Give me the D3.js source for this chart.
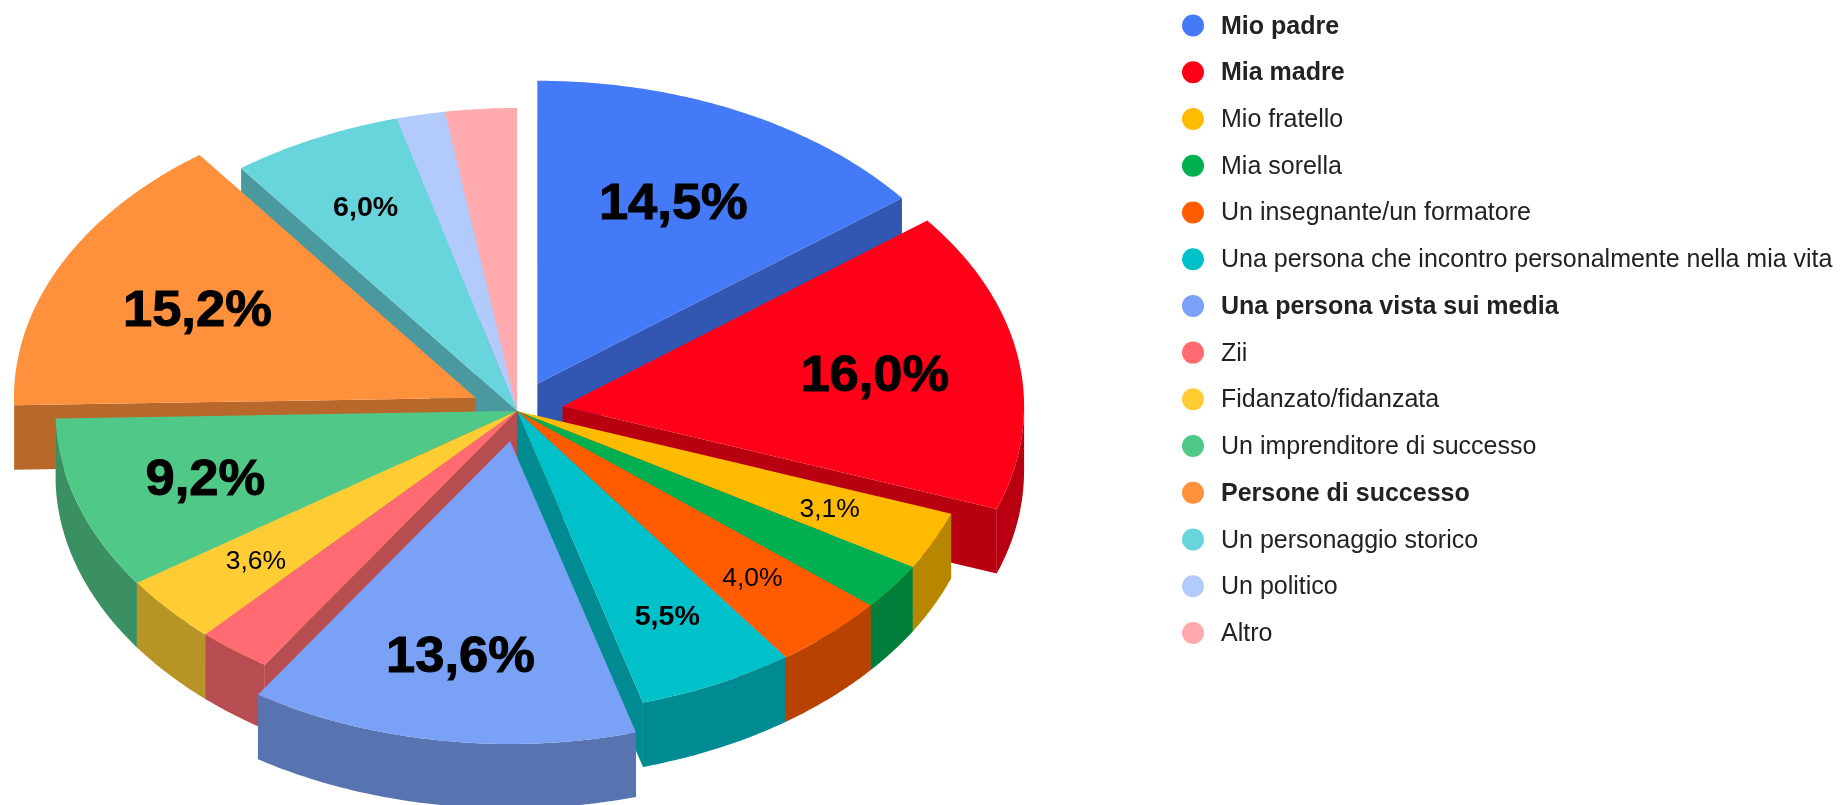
<!DOCTYPE html>
<html><head><meta charset="utf-8">
<script src="https://cdn.jsdelivr.net/npm/d3@7"></script>
<style>html,body{margin:0;padding:0;background:#fff}svg{display:block;filter:blur(0.5px)}text{font-family:"Liberation Sans",Arial,sans-serif}</style>
</head><body><svg id="c" width="1841" height="805"></svg>
<script>
const categories=["Mio padre","Mia madre","Mio fratello","Mia sorella","Un insegnante/un formatore","Una persona che incontro personalmente nella mia vita","Una persona vista sui media","Zii","Fidanzato/fidanzata","Un imprenditore di successo","Persone di successo","Un personaggio storico","Un politico","Altro"];
const values=[14.5,16.0,3.1,2.5,4.0,5.5,13.6,2.6,3.6,9.2,15.2,6.0,1.7,2.5];
const colors=["#4479F8","#FF0018","#FFBB00","#00AF50","#FF5B00","#00C0C9","#79A1F5","#FF6B70","#FFCC33","#50C887","#FF913C","#67D5DB","#B3CAFC","#FFAAAE"];
const highlighted=["Mio padre","Mia madre","Una persona vista sui media","Persone di successo"];
const labelled=["Mio padre","Mia madre","Mio fratello","Un insegnante/un formatore","Una persona che incontro personalmente nella mia vita","Una persona vista sui media","Fidanzato/fidanzata","Un imprenditore di successo","Persone di successo","Un personaggio storico"];
const boldSmall=["Una persona che incontro personalmente nella mia vita","Un personaggio storico"];

const W=1841,H=805,cx=517,cy=411,rx=461.5,ry=303,depth=64.5,explode=0.1;
const svg=d3.select("#c");
// unit circle -> screen scales (ellipse projection)
const sx=d3.scaleLinear().domain([-1,1]).range([cx-rx,cx+rx]);
const sy=d3.scaleLinear().domain([-1,1]).range([cy+ry,cy-ry]);
const labelRadius=d3.scaleLinear().domain([6,9.2,13.6,14.5,15.2,16]).range([0.75,0.71,0.715,0.67,0.67,0.685]).clamp(true);
const pie=d3.pie().sort(null).value(d=>d.v);
const arcs=pie(categories.map((n,i)=>({n,v:values[i],c:colors[i]})));
const line=d3.line();
arcs.forEach(a=>{
  a.mid=(a.startAngle+a.endAngle)/2;
  a.e=highlighted.includes(a.data.n)?explode:0;
  a.ox=a.e*Math.sin(a.mid); a.oy=a.e*Math.cos(a.mid);
  a.pt=(ang,r=1,z=0)=>[sx(a.ox+r*Math.sin(ang)),sy(a.oy+r*Math.cos(ang))+z];
  a.depthKey=sy(a.oy+0.6*Math.cos(a.mid));
});
function arcPts(a,s,e,z){const n=Math.max(2,Math.ceil((e-s)/0.01));return d3.range(n+1).map(i=>a.pt(s+(e-s)*i/n,1,z));}
const order=arcs.slice().sort((p,q)=>p.depthKey-q.depthKey);
const dark=c=>{const r=d3.rgb(c);return d3.rgb(r.r*.72,r.g*.72,r.b*.72).formatHex();};
const pieG=svg.append("g");
order.forEach(a=>{
  const g=pieG.append("g"),s=a.startAngle,e=a.endAngle,d=dark(a.data.c);
  const face=ang=>g.append("path").attr("fill",d).attr("d",line([a.pt(ang,0),a.pt(ang,1),a.pt(ang,1,depth),a.pt(ang,0,depth)])+"Z");
  if(s>Math.PI) face(s);
  if(e<Math.PI) face(e);
  const ws=Math.max(s,Math.PI/2),we=Math.min(e,Math.PI*1.5);
  if(we>ws){
    g.append("path").attr("fill",d).attr("d",line(arcPts(a,ws,we,0).concat(arcPts(a,ws,we,depth).reverse()))+"Z");
  }
  g.append("path").attr("fill",a.data.c)
    .attr("d",line([a.pt(0,0)].concat(arcPts(a,s,e,0)))+"Z");
});
// percentage labels
const fmt=v=>v.toFixed(1).replace(".",",")+"%";
arcs.forEach(a=>{
  if(!labelled.includes(a.data.n))return;
  const big=a.data.v>=9;
  const [x,y]=a.pt(a.mid,labelRadius(a.data.v));
  const bold=big||boldSmall.includes(a.data.n);
  const fs=big?50:(bold?27:25);
  svg.append("text").attr("transform",`translate(${x},${y}) scale(${big?1.05:1.06},1)`)
    .attr("text-anchor","middle").attr("dominant-baseline","central")
    .attr("font-size",fs).attr("font-weight",bold?700:400).attr("fill","#000")
    .attr("stroke",big?"#000":"none").attr("stroke-width",big?1:0)
    .text(fmt(a.data.v));
});
// legend
const ly=d3.scalePoint().domain(categories).range([25.5,633]);
const leg=svg.append("g").selectAll("g").data(arcs).join("g").attr("transform",d=>`translate(0,${ly(d.data.n)})`);
leg.append("circle").attr("cx",1193).attr("r",11).attr("fill",d=>d.data.c);
leg.append("text").attr("x",1221).attr("y",-1).attr("dominant-baseline","central")
  .attr("font-size",25).attr("fill","#222").attr("font-weight",d=>highlighted.includes(d.data.n)?700:400)
  .text(d=>d.data.n);
</script></body></html>
